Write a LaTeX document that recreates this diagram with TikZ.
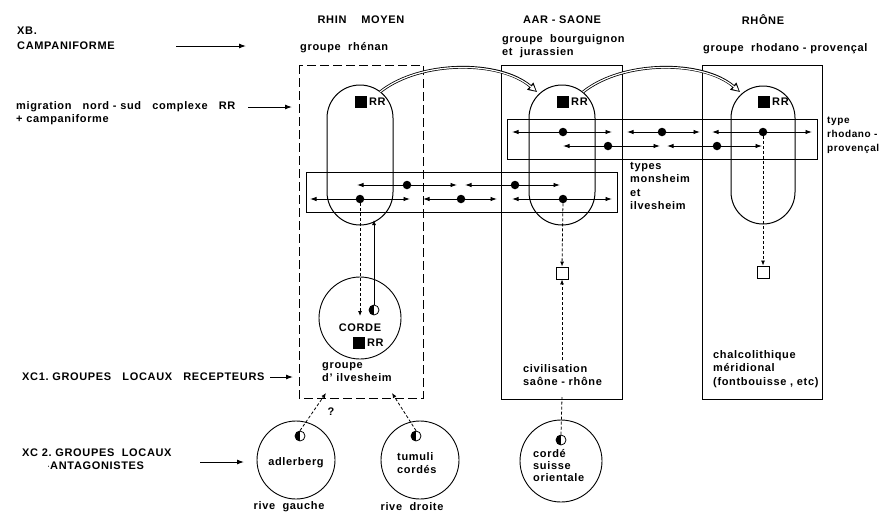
\documentclass[tikz,border=0pt]{standalone}
\usepackage{fontspec}
\setmainfont{Liberation Sans}[LetterSpace=6]
\usetikzlibrary{arrows.meta}
\newcommand\bandarrow[5]{%
  \node[dot] (#1) at (#2,#3) {};
  \coordinate (#1l) at (#4,#3);
  \coordinate (#1r) at (#5,#3);
  \draw[harrow] (#1) -- (#1l);
  \draw[harrow] (#1) -- (#1r);}
\begin{document}
\begin{tikzpicture}[x=1pt,y=-1pt,
  txt/.style={font=\fontsize{11}{13.5}\selectfont\bfseries, inner sep=0pt, align=left},
  boxline/.style={line width=0.9pt},
  dashbox/.style={line width=1pt, dash pattern=on 9pt off 4pt},
  caps/.style={line width=1pt},
  harrow/.style={line width=0.9pt, -{Latex[length=6.5pt,width=4.5pt]}},
  larrow/.style={line width=1pt, -{Latex[length=7pt,width=5pt]}},
  darrow/.style={line width=0.8pt, dash pattern=on 3pt off 2pt, -{Latex[length=5pt,width=4pt]}},
  dline/.style={line width=0.8pt, dash pattern=on 3pt off 2pt},
  sarrow/.style={line width=0.9pt, -{Latex[length=5pt,width=4pt]}},
  dot/.style={circle, fill, inner sep=0pt, minimum size=8.5pt},
  rrsq/.style={fill, inner sep=0pt, minimum size=11.5pt},
  opensq/.style={draw, line width=0.9pt, inner sep=0pt, minimum size=12pt, fill=white},
  moon/.style={circle, draw, line width=0.8pt, minimum size=10pt, inner sep=0pt,
     path picture={\fill (path picture bounding box.north west) rectangle (path picture bounding box.south);}},
  bigc/.style={circle, draw, line width=0.9pt, inner sep=0pt},
]
\useasboundingbox (0,0) rectangle (882,520);

% ---------- left labels
\node[txt, anchor=west] (xb) at (17,31) {XB.};
\node[txt, anchor=west] (camp) at (17,46) {CAMPANIFORME};
\coordinate (a1s) at (176,46); \coordinate (a1e) at (246,46);
\draw[larrow] (a1s) -- (a1e);
\node[txt, anchor=west] (mig) at (16,107) {migration\ \ \ nord - sud\ \ \ complexe\ \ \ RR};
\node[txt, anchor=west] (migb) at (16,120) {+ campaniforme};
\coordinate (a2s) at (248,107); \coordinate (a2e) at (292,107);
\draw[larrow] (a2s) -- (a2e);
\node[txt, anchor=west] (xc1) at (22,377) {XC1.\ GROUPES\ \ \ LOCAUX\ \ \ RECEPTEURS};
\coordinate (a3s) at (270,377); \coordinate (a3e) at (293,377);
\draw[larrow] (a3s) -- (a3e);
\node[txt, anchor=west] (xc2) at (22,453) {XC 2.\ GROUPES\ \ LOCAUX};
\node[txt, anchor=west] (xc2b) at (47,466) {$\cdot$ANTAGONISTES};
\coordinate (a4s) at (200,462); \coordinate (a4e) at (244,462);
\draw[larrow] (a4s) -- (a4e);

% ---------- headers
\node[txt] (h1) at (361,20) {RHIN\ \ \ \ MOYEN};
\node[txt] (h2) at (562,20) {AAR - SAONE};
\node[txt] (h3) at (763,20) {RHÔNE};
\node[txt, anchor=west] (g1) at (300,48) {groupe\ \ rhénan};
\node[txt, anchor=west] (g2) at (502,40) {groupe\ \ bourguignon};
\node[txt, anchor=west] (g2b) at (502,53) {et\ \ jurassien};
\node[txt, anchor=west] (g3) at (703,49) {groupe\ \ rhodano - provençal};

% ---------- boxes
\draw[dashbox] (299,65) rectangle (423,398);
\draw[boxline] (501,65) rectangle (622,399);
\draw[boxline] (702,65) rectangle (822,399);
% bands
\draw[boxline] (306,172) rectangle (617,212);
\draw[boxline] (507,119) rectangle (817,159);

% ---------- capsules
\draw[caps] (327,118) arc[start angle=180, end angle=360, radius=33] -- (393,192)
   arc[start angle=0, end angle=180, radius=33] -- cycle;
\draw[caps] (529,118) arc[start angle=180, end angle=360, radius=33] -- (595,192)
   arc[start angle=0, end angle=180, radius=33] -- cycle;
\draw[caps] (731,118) arc[start angle=180, end angle=360, radius=32] -- (795,192)
   arc[start angle=0, end angle=180, radius=32] -- cycle;

% RR marks
\node[rrsq] (rr1) at (361,102) {};
\node[txt, anchor=west] (rr1t) at ([xshift=2pt]rr1.east) {RR};
\node[rrsq] (rr2) at (563,102) {};
\node[txt, anchor=west] (rr2t) at ([xshift=2pt]rr2.east) {RR};
\node[rrsq] (rr3) at (764,102) {};
\node[txt, anchor=west] (rr3t) at ([xshift=2pt]rr3.east) {RR};

% ---------- hollow curved arrows
\coordinate (c1s) at (380,92); \coordinate (c1e) at (537,92);
\coordinate (c2s) at (583,92); \coordinate (c2e) at (740,92);
\draw[line width=2.8pt, -{Triangle[length=9pt,width=9pt]}] (c1s) .. controls (420,60) and (500,60) .. (c1e);
\draw[line width=1.2pt, white, shorten >=1.8pt, -{Triangle[length=5.8pt,width=5.2pt]}] (c1s) .. controls (420,60) and (500,60) .. (c1e);
\draw[line width=2.8pt, -{Triangle[length=9pt,width=9pt]}] (c2s) .. controls (623,60) and (703,60) .. (c2e);
\draw[line width=1.2pt, white, shorten >=1.8pt, -{Triangle[length=5.8pt,width=5.2pt]}] (c2s) .. controls (623,60) and (703,60) .. (c2e);

% ---------- band arrows
\bandarrow{u1}{563}{132}{512}{612}
\bandarrow{u2}{662}{132}{627}{700}
\bandarrow{u3}{763}{132}{712}{812}
\bandarrow{u4}{608}{146}{563}{660}
\bandarrow{u5}{717}{146}{667}{762}
\bandarrow{l1}{407}{185}{357}{457}
\bandarrow{l2}{515}{185}{465}{560}
\bandarrow{l3}{360}{199}{310}{410}
\bandarrow{l4}{461}{199}{423}{497}
\bandarrow{l5}{563}{199}{512}{612}

% ---------- band labels
\node[txt, anchor=north west] (tm) at (630,162) {types\\monsheim\\et\\ilvesheim};
\node[txt, anchor=north west, font=\fontsize{10}{14}\selectfont\bfseries] (trp) at (827,117) {type\\rhodano -\\provençal};

% ---------- rhin moyen lower part
\node[bigc, minimum size=82pt] (cc) at (360,318) {};
\node[moon] (m1) at (374,310) {};
\node[txt] (corde) at (360,328) {CORDE};
\node[rrsq] (rr4) at (359,343) {};
\node[txt, anchor=west] (rr4t) at ([xshift=2pt]rr4.east) {RR};
\coordinate (m1t) at (360,316);
\coordinate (cap1b) at (374,220);
\draw[darrow] (l3) -- (m1t);
\draw[sarrow] (m1.north) -- (cap1b);
\node[txt, anchor=north west] (gil) at (322,362) {groupe\\d' ilvesheim};

% ---------- aar-saone lower part
\node[opensq] (sq2) at (562,273) {};
\draw[darrow] (l5) -- (sq2.north);
\node[txt, anchor=north west] (civ) at (523,364) {civilisation\\saône - rhône};
\coordinate (civt) at (562,360);
\coordinate (civb) at (562,397);
\draw[darrow] (civt) -- (sq2.south);

% ---------- rhone lower part
\node[opensq] (sq3) at (763,272) {};
\draw[darrow] (u3) -- (sq3.north);
\node[txt, anchor=north west] (chal) at (713,350) {chalcolithique\\méridional\\(fontbouisse , etc)};

% ---------- bottom circles
\node[bigc, minimum size=78pt] (adl) at (296,460) {};
\node[moon] (m2) at (300,436) {};
\node[txt] (adlt) at (296,463) {adlerberg};
\node[bigc, minimum size=78pt] (tum) at (420,460) {};
\node[moon] (m3) at (416,436) {};
\node[txt, anchor=north west] (tumt) at (397,452) {tumuli\\cordés};
\node[bigc, minimum size=82pt] (csz) at (561,461) {};
\node[moon] (m4) at (561,440) {};
\node[txt, anchor=north west, font=\fontsize{11}{12}\selectfont\bfseries] (cszt) at (533,449) {cordé\\suisse\\orientale};
\draw[dline] (m4.north) -- (civb);

\coordinate (gb1) at (326,393);
\coordinate (gb2) at (392,393);
\draw[darrow] (m2.north) -- (gb1);
\draw[darrow] (m3.north) -- (gb2);
\node[txt] (q) at (331,412) {?};

\node[txt] (rg) at (289,507) {rive\ \ gauche};
\node[txt] (rd) at (412,507) {rive\ \ droite};
\end{tikzpicture}
\end{document}
